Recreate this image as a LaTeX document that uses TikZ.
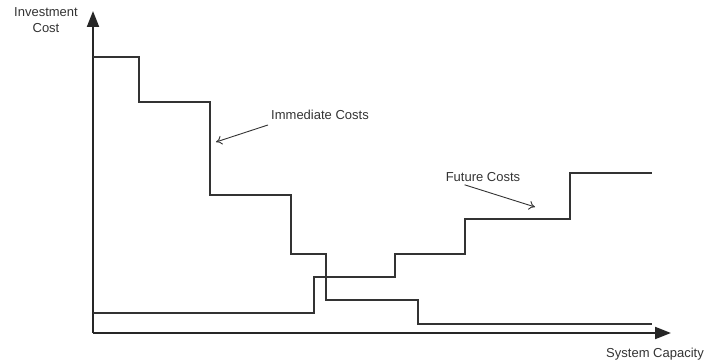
\documentclass[tikz,border=0pt]{standalone}
\usepackage{fontspec}
\setmainfont{Liberation Sans}
\usetikzlibrary{arrows.meta}
\tikzset{
  axis/.style={line width=2pt,draw=black!85,-{Triangle[length=16pt,width=12pt]}},
  cost/.style={line width=1.2pt,draw=black!80},
  leader/.style={line width=0.9pt,draw=black!80,-{To[length=6pt,width=9pt]}},
  lbl/.style={inner sep=1pt,text=black!80}
}
\begin{document}
\begin{tikzpicture}[x=1pt,y=1pt]
	\fontsize{13}{16}\selectfont
	\useasboundingbox (0,0) rectangle (704,364);
	% axes
	\coordinate (O) at (93,31);
	\coordinate (ytop) at (93,353);
	\coordinate (xend) at (671,31);
	\draw[axis] (O) -- (ytop);
	\draw[axis] (O) -- (xend);
	\node[lbl,align=center] (ylabel) at (46,344) {Investment\\Cost};
	\node[lbl] (xlabel) at (655,10) {System Capacity};

	% immediate costs
	\draw[cost] (93,307) -| (139,262) -| (210,169) -| (291,110) -| (326,64) -| (418,40) -- (652,40);
	% future costs
	\draw[cost] (93,51) -| (314,87) -| (395,110) -| (465,145) -| (570,191) -- (652,191);

	\node[lbl] (imm) at (320,249) {Immediate Costs};
	\coordinate (immtip) at (216,222);
	\draw[leader] ([xshift=-2pt,yshift=-4pt]imm.south west) -- (immtip);

	\node[lbl] (fut) at (483,187) {Future Costs};
	\coordinate (futtip) at (535,157);
	\draw[leader] ([xshift=20pt,yshift=-2pt]fut.south west) -- (futtip);
\end{tikzpicture}
\end{document}
